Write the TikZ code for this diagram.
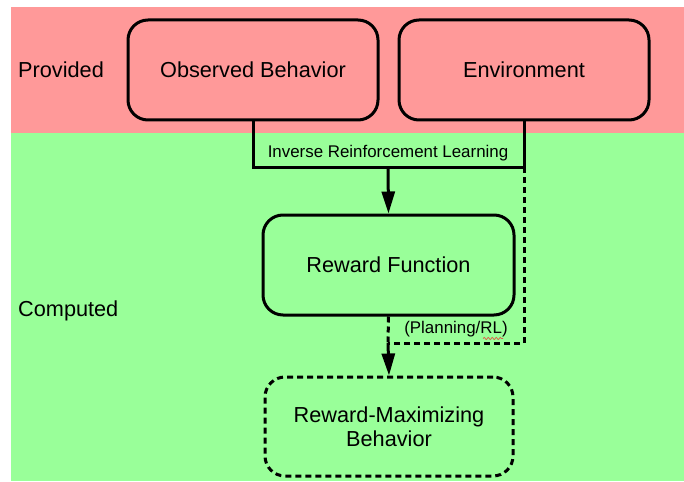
\documentclass[tikz,border=0pt]{standalone}
\usepackage{fontspec}
\setmainfont{Liberation Sans}
\usetikzlibrary{arrows.meta,decorations.pathmorphing}
\definecolor{provpink}{RGB}{255,153,153}
\definecolor{compgreen}{RGB}{153,255,153}
\definecolor{spellred}{RGB}{225,90,70}
\tikzset{
  box/.style={draw=black, line width=3pt, rounded corners=20pt, rectangle, align=center,
    font=\fontsize{21.7}{24.5}\selectfont, text=black},
  lbl/.style={font=\fontsize{21.7}{24.5}\selectfont, text=black, inner sep=0pt},
  small/.style={font=\fontsize{16.9}{20}\selectfont, text=black, inner sep=0pt},
  conn/.style={line width=3pt, draw=black},
  dashconn/.style={line width=3pt, draw=black, dash pattern=on 6pt off 4pt},
  arr/.style={line width=3pt, -{Triangle[length=22pt,width=13pt]}},
}
\begin{document}
\begin{tikzpicture}[x=1pt,y=-1pt]
\useasboundingbox (0,0) rectangle (684,481);
\fill[white] (0,0) rectangle (684,481);
\fill[provpink] (11,7) rectangle (684,133);
\fill[compgreen] (11,133) rectangle (684,481);

\node[lbl, anchor=west] (prov) at (18,70) {Provided};
\node[lbl, anchor=west] (comp) at (18,311) {Computed};

\node[box, minimum width=250pt, minimum height=100pt] (ob) at (253,70) {Observed Behavior};
\node[box, minimum width=250pt, minimum height=100pt] (env) at (524,70) {Environment};
\node[box, minimum width=251pt, minimum height=100pt] (rf) at (388.5,265) {Reward Function};
\node[box, dash pattern=on 6pt off 4pt, minimum width=248pt, minimum height=99pt] (rmb) at (389,426.5) {Reward-Maximizing\\Behavior};

\coordinate (bar) at (388,167);
\coordinate (m) at (388,343);

\node[small] (irl) at (388,153) {Inverse Reinforcement Learning};
\node[small] (plan) at (456,329) {(Planning/RL)};

\draw[conn] (ob.south) -- (ob.south |- bar) -- (env.south |- bar) -- (env.south);
\draw[arr] (bar) -- (rf.north);
\draw[dashconn] (env.south |- bar) -- (env.south |- m) -- (m);
\draw[dashconn] (rf.south) -- (m);
\draw[arr] (m) -- (rmb.north);

\draw[spellred, line width=0.7pt, decorate, decoration={snake, amplitude=1.1pt, segment length=4pt}] (483,338.5) -- (503,338.5);
\end{tikzpicture}
\end{document}
